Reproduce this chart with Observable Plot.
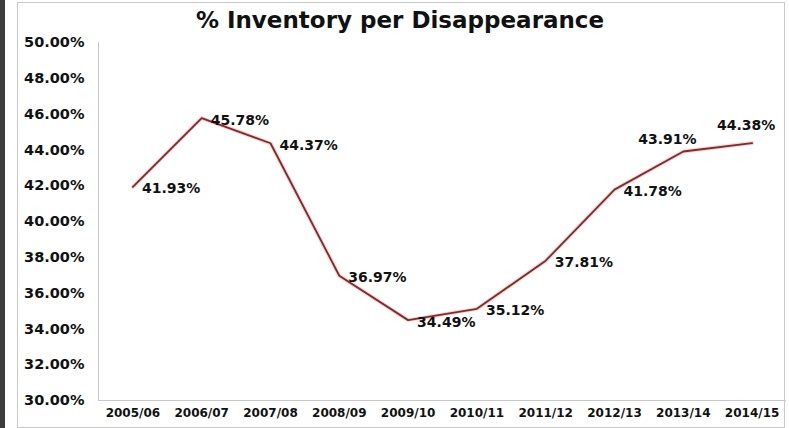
<!DOCTYPE html>
<html>
<head>
<meta charset="utf-8">
<script src="https://cdn.jsdelivr.net/npm/d3@7"></script>
<script src="https://cdn.jsdelivr.net/npm/@observablehq/plot@0.6"></script>
<style>
  html, body { margin: 0; padding: 0; background: #fff; }
  #wrap { position: relative; width: 789px; height: 428px; overflow: hidden; font-family: "DejaVu Sans", Verdana, sans-serif; }
  #bar { position: absolute; left: 0; top: 0; width: 5px; height: 428px; background: #3c3c3c; }
  #frame { position: absolute; left: 17px; top: 2px; width: 766px; height: 424px; border: 1px solid #c8c8c8; box-sizing: content-box; }
  #title { position: absolute; left: 0; width: 800px; top: 7px; text-align: center; font-weight: bold; font-size: 23px; color: #111; }
  #chart { position: absolute; left: 0; top: 0; }
</style>
</head>
<body>
<div id="wrap">
  <div id="bar"></div>
  <div id="frame"></div>
  <div id="title">% Inventory per Disappearance</div>
  <div id="chart"></div>
</div>
<script>
const years = ["2005/06","2006/07","2007/08","2008/09","2009/10","2010/11","2011/12","2012/13","2013/14","2014/15"];
const inventoryPct = [41.93, 45.78, 44.37, 36.97, 34.49, 35.12, 37.81, 41.78, 43.91, 44.38];
const yTicks = [30, 32, 34, 36, 38, 40, 42, 44, 46, 48, 50];

const data = years.map((y, i) => ({i, year: y, v: inventoryPct[i]}));
const rightLabels = data.slice(0, 8);
const fmt = d => d.v.toFixed(2) + "%";
const labelStyle = {fontSize: 14, fontWeight: "bold", fill: "#111"};

const plot = Plot.plot({
  width: 789,
  height: 428,
  marginLeft: 98,
  marginRight: 3,
  marginTop: 42,
  marginBottom: 28,
  style: {background: "transparent", fontFamily: "DejaVu Sans, Verdana, sans-serif", color: "#111", overflow: "visible"},
  x: {type: "linear", domain: [-0.5, years.length - 0.5], axis: null, label: null},
  y: {domain: [30, 50], axis: null, label: null},
  marks: [
    Plot.axisY(yTicks, {tickSize: 0, tickPadding: 14, label: null, tickFormat: d => d.toFixed(2) + "%", fontSize: 14.5, fontWeight: "bold", fill: "#111"}),
    Plot.axisX(d3.range(years.length), {tickSize: 0, tickPadding: 8, label: null, tickFormat: i => years[i], fontSize: 12, fontWeight: "bold", fill: "#111"}),
    Plot.ruleX([-0.5], {stroke: "#c8c8c8", strokeWidth: 1}),
    Plot.ruleY([30], {stroke: "#c8c8c8", strokeWidth: 1}),
    Plot.line(data, {x: "i", y: "v", stroke: "#f2b8b8", strokeWidth: 4, strokeOpacity: 0.6}),
    Plot.line(data, {x: "i", y: "v", stroke: "#7d2b2b", strokeWidth: 1.8}),
    Plot.text(rightLabels, {x: "i", y: "v", text: fmt, textAnchor: "start", dx: 9, dy: 2, ...labelStyle}),
    Plot.text([data[8]], {x: "i", y: "v", text: fmt, textAnchor: "middle", dx: -16, dy: -12, ...labelStyle}),
    Plot.text([data[9]], {x: "i", y: "v", text: fmt, textAnchor: "middle", dx: -6, dy: -18, ...labelStyle})
  ]
});
document.getElementById("chart").appendChild(plot);
</script>
</body>
</html>
